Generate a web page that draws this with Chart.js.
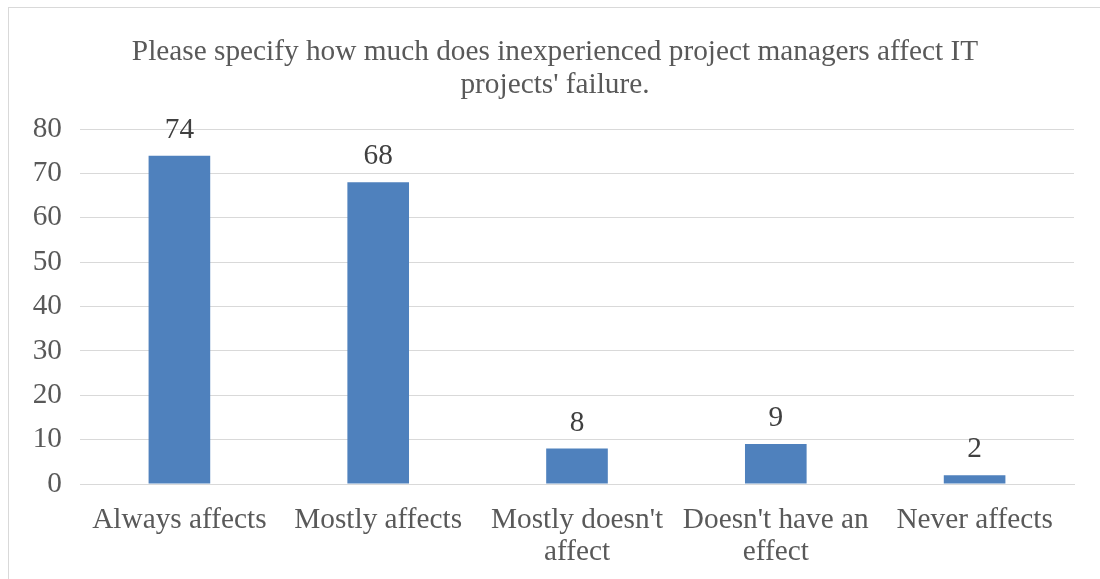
<!DOCTYPE html>
<html>
<head>
<meta charset="utf-8">
<script src="https://cdn.jsdelivr.net/npm/chart.js@4"></script>
<style>
    html, body { margin: 0; padding: 0; background: #fff; }
    #wrap { position: relative; width: 1100px; height: 579px; overflow: hidden; }
    #frame { position: absolute; left: 8px; top: 7px; width: 1100px; height: 600px; border: 1px solid #d9d9d9; }
    canvas { position: absolute; left: 0; top: 0; }
</style>
</head>
<body>
<div id="wrap">
    <div id="frame"></div>
    <canvas id="barChart" width="1100" height="579"></canvas>
</div>
<script>
// 数据
const categories = ['Always affects', 'Mostly affects', ["Mostly doesn't", 'affect'], ["Doesn't have an", 'effect'], 'Never affects'];
const counts = [74, 68, 8, 9, 2];
const yTicks = [0, 10, 20, 30, 40, 50, 60, 70, 80];
const titleLines = ['Please specify how much does inexperienced project managers affect IT', "projects' failure."];

const SERIF = '"Liberation Serif", "Times New Roman", serif';
const FONT_SIZE = 29.3;

// 标题（以整个图框为中心）
const frameTitle = {
    id: 'frameTitle',
    afterDraw(chart) {
        const ctx = chart.ctx;
        ctx.save();
        ctx.font = FONT_SIZE + 'px ' + SERIF;
        ctx.fillStyle = '#595959';
        ctx.textAlign = 'center';
        ctx.textBaseline = 'middle';
        titleLines.forEach((line, i) => {
            ctx.fillText(line, 555, 52 + i * 33);
        });
        ctx.restore();
    }
};

// 柱顶数值标签
const valueLabels = {
    id: 'valueLabels',
    afterDatasetsDraw(chart) {
        const ctx = chart.ctx;
        const meta = chart.getDatasetMeta(0);
        ctx.save();
        ctx.font = FONT_SIZE + 'px ' + SERIF;
        ctx.fillStyle = '#404040';
        ctx.textAlign = 'center';
        ctx.textBaseline = 'alphabetic';
        meta.data.forEach((bar, i) => {
            ctx.fillText(String(counts[i]), bar.x, bar.y - 18);
        });
        ctx.restore();
    }
};

const chart = new Chart(document.getElementById('barChart'), {
    type: 'bar',
    data: {
        labels: categories,
        datasets: [{
            data: counts,
            backgroundColor: '#4f81bd',
            borderWidth: 0,
            categoryPercentage: 1,
            barPercentage: 0.31
        }]
    },
    options: {
        responsive: false,
        animation: false,
        layout: { padding: { left: 8, right: 26, top: 129, bottom: 0 } },
        plugins: {
            legend: { display: false },
            tooltip: { enabled: false },
            title: { display: false }
        },
        scales: {
            x: {
                afterFit(scale) { scale.height = 95; },
                grid: { display: false, drawTicks: false },
                border: { display: true, color: '#d9d9d9' },
                ticks: {
                    color: '#595959',
                    font: { family: SERIF, size: FONT_SIZE, lineHeight: 1.1 },
                    maxRotation: 0,
                    autoSkip: false,
                    padding: 20
                }
            },
            y: {
                min: 0,
                max: 80,
                afterBuildTicks(scale) {
                    scale.ticks = yTicks.map(v => ({ value: v }));
                },
                afterFit(scale) { scale.width = 72; },
                grid: { color: '#d9d9d9', drawTicks: false },
                border: { display: false },
                ticks: {
                    color: '#595959',
                    font: { family: SERIF, size: FONT_SIZE },
                    padding: 18
                }
            }
        }
    },
    plugins: [valueLabels, frameTitle]
});
</script>
</body>
</html>
